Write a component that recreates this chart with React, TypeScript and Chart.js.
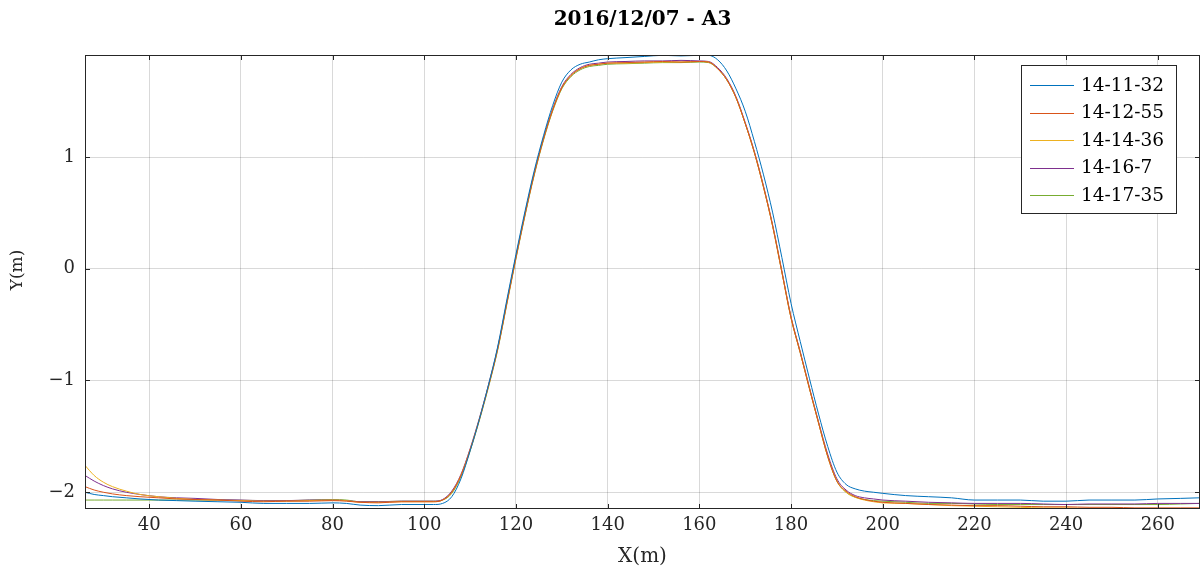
import React, { useEffect, useRef } from "react";
import { Chart, registerables } from "chart.js";

Chart.register(...registerables);

const TITLE = "2016/12/07 - A3";
const X_LABEL = "X(m)";
const Y_LABEL = "Y(m)";

const X = [26, 28, 30, 32, 35, 38, 42, 46, 50, 55, 60, 65, 70, 75, 80, 83, 86, 90, 95, 100,
  102, 104, 106, 108, 110, 112, 114, 116, 118, 120, 122, 124, 126, 128, 130, 132, 134, 136, 138, 140,
  144, 148, 152, 156, 160, 162, 164, 166, 168, 170, 172, 174, 176, 178, 180, 182, 184, 186, 188, 190,
  192, 194, 196, 198, 200, 205, 210, 215, 220, 225, 230, 235, 240, 245, 250, 255, 260, 265, 269];

const S_141132 = [-2.00, -2.02, -2.03, -2.04, -2.05, -2.06, -2.07, -2.075, -2.08, -2.085, -2.09, -2.10, -2.10, -2.10, -2.095, -2.10, -2.115, -2.12, -2.11, -2.11,
  -2.11, -2.10, -2.04, -1.88, -1.63, -1.35, -1.04, -0.70, -0.28, 0.13, 0.52, 0.88, 1.19, 1.46, 1.67, 1.78, 1.83, 1.85, 1.87, 1.88,
  1.89, 1.90, 1.91, 1.905, 1.91, 1.91, 1.87, 1.77, 1.61, 1.41, 1.14, 0.84, 0.50, 0.10, -0.31, -0.65, -0.98, -1.30, -1.59, -1.82,
  -1.93, -1.97, -1.99, -2.00, -2.01, -2.03, -2.04, -2.05, -2.07, -2.07, -2.07, -2.08, -2.08, -2.07, -2.07, -2.07, -2.06, -2.055, -2.05];

const S_141255 = [-1.95, -1.98, -2.00, -2.015, -2.03, -2.04, -2.05, -2.06, -2.065, -2.07, -2.08, -2.085, -2.08, -2.08, -2.075, -2.08, -2.09, -2.095, -2.085, -2.085,
  -2.085, -2.07, -2.00, -1.85, -1.62, -1.35, -1.05, -0.72, -0.31, 0.10, 0.49, 0.85, 1.16, 1.42, 1.62, 1.73, 1.79, 1.82, 1.83, 1.84,
  1.845, 1.85, 1.855, 1.85, 1.855, 1.85, 1.79, 1.69, 1.53, 1.30, 1.04, 0.73, 0.38, -0.03, -0.44, -0.75, -1.07, -1.38, -1.68, -1.90,
  -1.99, -2.04, -2.065, -2.08, -2.09, -2.10, -2.11, -2.115, -2.12, -2.12, -2.125, -2.13, -2.13, -2.135, -2.135, -2.14, -2.14, -2.14, -2.14];

const S_141436 = [-1.76, -1.85, -1.91, -1.95, -1.99, -2.02, -2.04, -2.055, -2.065, -2.07, -2.075, -2.08, -2.08, -2.075, -2.07, -2.075, -2.09, -2.09, -2.085, -2.085,
  -2.085, -2.07, -2.00, -1.85, -1.62, -1.35, -1.05, -0.72, -0.31, 0.10, 0.49, 0.85, 1.16, 1.42, 1.62, 1.73, 1.79, 1.82, 1.83, 1.84,
  1.84, 1.845, 1.85, 1.85, 1.855, 1.85, 1.79, 1.69, 1.53, 1.30, 1.04, 0.73, 0.38, -0.03, -0.44, -0.75, -1.07, -1.38, -1.68, -1.90,
  -2.00, -2.045, -2.07, -2.085, -2.095, -2.10, -2.11, -2.12, -2.125, -2.13, -2.135, -2.14, -2.14, -2.145, -2.145, -2.145, -2.145, -2.145, -2.145];

const S_14167 = [-1.85, -1.90, -1.94, -1.97, -2.00, -2.02, -2.04, -2.05, -2.055, -2.065, -2.07, -2.075, -2.075, -2.07, -2.07, -2.075, -2.085, -2.085, -2.08, -2.08,
  -2.08, -2.065, -1.99, -1.84, -1.61, -1.34, -1.04, -0.71, -0.30, 0.11, 0.50, 0.86, 1.17, 1.43, 1.63, 1.74, 1.80, 1.83, 1.84, 1.85,
  1.855, 1.86, 1.86, 1.865, 1.86, 1.855, 1.80, 1.70, 1.54, 1.31, 1.05, 0.74, 0.39, -0.02, -0.43, -0.74, -1.06, -1.37, -1.66, -1.88,
  -1.98, -2.03, -2.05, -2.06, -2.07, -2.08, -2.09, -2.095, -2.10, -2.10, -2.10, -2.105, -2.11, -2.105, -2.105, -2.105, -2.10, -2.10, -2.10];

const S_141735 = [-2.07, -2.07, -2.07, -2.07, -2.07, -2.07, -2.07, -2.07, -2.07, -2.07, -2.072, -2.075, -2.075, -2.07, -2.065, -2.07, -2.085, -2.085, -2.08, -2.08,
  -2.08, -2.07, -2.01, -1.86, -1.63, -1.36, -1.06, -0.73, -0.32, 0.09, 0.48, 0.84, 1.15, 1.41, 1.61, 1.72, 1.78, 1.81, 1.82, 1.83,
  1.835, 1.84, 1.845, 1.845, 1.85, 1.845, 1.79, 1.69, 1.53, 1.30, 1.04, 0.73, 0.38, -0.03, -0.44, -0.75, -1.07, -1.38, -1.68, -1.90,
  -2.00, -2.045, -2.065, -2.075, -2.08, -2.09, -2.10, -2.10, -2.105, -2.11, -2.11, -2.11, -2.11, -2.11, -2.11, -2.11, -2.11, -2.105, -2.10];

const SERIES_LABELS = ["14-11-32", "14-12-55", "14-14-36", "14-16-7", "14-17-35"];
const SERIES_VALUES = [S_141132, S_141255, S_141436, S_14167, S_141735];
const SERIES_COLORS = ["#0072BD", "#D95319", "#EDB120", "#7E2F8E", "#77AC30"];

const X_MIN = 26;
const X_MAX = 269.2;
const Y_MIN = -2.15;
const Y_MAX = 1.913;

const FONT = "'DejaVu Serif', 'Liberation Serif', serif";
const AXIS_COLOR = "#262626";

const frameAndLegend = {
  id: "frameAndLegend",
  afterDraw(chart: any) {
    const { ctx, chartArea } = chart;
    const { left, right, top, bottom } = chartArea;
    ctx.save();
    ctx.strokeStyle = AXIS_COLOR;
    ctx.lineWidth = 1;
    const xs = chart.scales.x;
    const ys = chart.scales.y;
    ctx.beginPath();
    xs.ticks.forEach((t: any) => {
      const px = Math.round(xs.getPixelForValue(t.value)) + 0.5;
      ctx.moveTo(px, bottom);
      ctx.lineTo(px, bottom - 5);
      ctx.moveTo(px, top);
      ctx.lineTo(px, top + 5);
    });
    ys.ticks.forEach((t: any) => {
      const py = Math.round(ys.getPixelForValue(t.value)) + 0.5;
      ctx.moveTo(left, py);
      ctx.lineTo(left + 5, py);
      ctx.moveTo(right, py);
      ctx.lineTo(right - 5, py);
    });
    ctx.stroke();
    ctx.strokeRect(Math.round(left) + 0.5, Math.round(top) + 0.5, Math.round(right - left) - 1, Math.round(bottom - top) - 1);

    // y axis label
    ctx.save();
    ctx.translate(18, 270);
    ctx.rotate(-Math.PI / 2);
    ctx.font = "17px " + FONT;
    ctx.fillStyle = AXIS_COLOR;
    ctx.textAlign = "center";
    ctx.textBaseline = "middle";
    ctx.fillText(Y_LABEL, 0, 0);
    ctx.restore();

    // legend
    const bx = 1021.5, by = 65.5, bw = 155, bh = 148;
    ctx.fillStyle = "#ffffff";
    ctx.fillRect(bx, by, bw, bh);
    ctx.strokeStyle = AXIS_COLOR;
    ctx.strokeRect(bx, by, bw, bh);
    ctx.font = "18.5px " + FONT;
    ctx.textBaseline = "middle";
    ctx.textAlign = "left";
    chart.data.datasets.forEach((ds: any, i: number) => {
      const cy = 85 + i * 27.5;
      ctx.strokeStyle = ds.borderColor;
      ctx.lineWidth = 1;
      ctx.beginPath();
      ctx.moveTo(1030, Math.round(cy) + 0.5);
      ctx.lineTo(1074, Math.round(cy) + 0.5);
      ctx.stroke();
      ctx.fillStyle = "#000000";
      ctx.fillText(ds.label, 1081, cy + 1);
    });
    ctx.restore();
  },
};

export default function App() {
  const canvasRef = useRef<HTMLCanvasElement | null>(null);

  useEffect(() => {
    const canvas = canvasRef.current;
    if (!canvas) return;
    const datasets = SERIES_LABELS.map((label, i) => ({
      label,
      data: X.map((x, j) => ({ x, y: SERIES_VALUES[i][j] })),
      borderColor: SERIES_COLORS[i],
      backgroundColor: SERIES_COLORS[i],
      borderWidth: 1,
      pointRadius: 0,
      fill: false,
      cubicInterpolationMode: "monotone" as const,
    }));
    const chart = new Chart(canvas, {
      type: "line",
      data: { datasets },
      plugins: [frameAndLegend],
      options: {
        animation: false,
        responsive: false,
        devicePixelRatio: 1,
        layout: { padding: { left: 0, right: 3, top: 0, bottom: 0 } },
        plugins: {
          legend: { display: false },
          tooltip: { enabled: false },
          title: {
            display: true,
            text: TITLE,
            fullSize: false,
            color: "#000000",
            font: { family: FONT, size: 20, weight: "bold" },
            padding: { top: 8, bottom: 23 },
          },
        },
        scales: {
          x: {
            type: "linear",
            min: X_MIN,
            max: X_MAX,
            ticks: {
              stepSize: 20,
              includeBounds: false,
              color: "#262626",
              font: { family: FONT, size: 18 },
              padding: 6,
              maxRotation: 0,
            },
            grid: { color: "rgba(0,0,0,0.15)", drawTicks: false },
            border: { display: false },
            title: {
              display: true,
              text: X_LABEL,
              color: "#262626",
              font: { family: FONT, size: 20 },
              padding: { top: 0, bottom: 2 },
            },
            afterFit(scale: any) {
              scale.height = 571 - 509;
            },
          },
          y: {
            type: "linear",
            min: Y_MIN,
            max: Y_MAX,
            ticks: {
              stepSize: 1,
              includeBounds: false,
              color: "#262626",
              font: { family: FONT, size: 18 },
              padding: 10,
              callback: (v: any) => String(v).replace("-", "\u2212"),
            },
            grid: { color: "rgba(0,0,0,0.15)", drawTicks: false },
            border: { display: false },
            afterFit(scale: any) {
              scale.width = 85;
            },
          },
        },
      },
    });
    return () => chart.destroy();
  }, []);

  return (
    <div style={{ position: "absolute", left: 0, top: 0, width: 1203, height: 571, background: "#ffffff" }}>
      <canvas ref={canvasRef} width={1203} height={571} />
    </div>
  );
}
